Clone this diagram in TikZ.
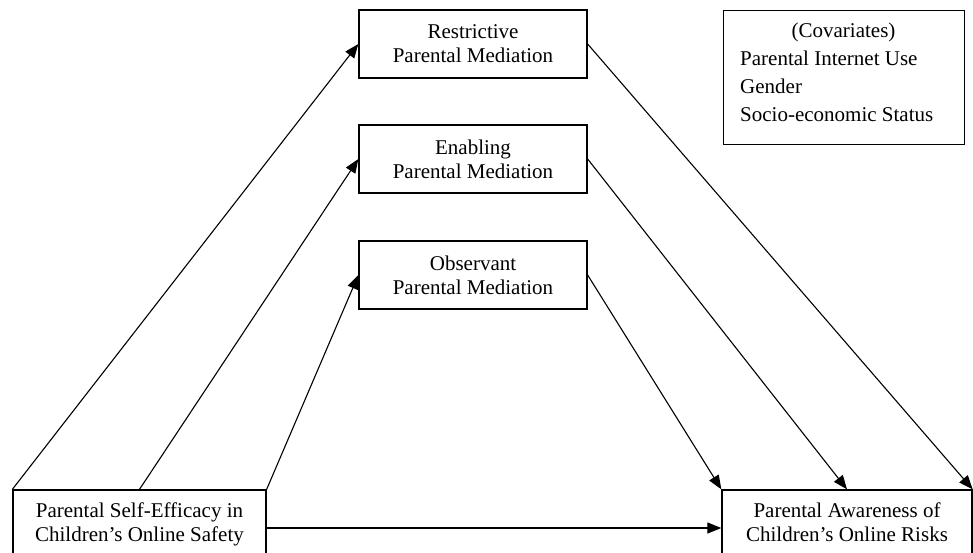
\documentclass[tikz,border=0pt]{standalone}
\usepackage{fontspec}
\setmainfont{Liberation Serif}
\usetikzlibrary{arrows.meta}
\begin{document}
\begin{tikzpicture}[x=1pt,y=-1pt,
  txt/.style={inner sep=0pt, font=\fontsize{21}{24}\selectfont},
  box/.style={txt, draw, line width=1.3pt, align=center},
  midbox/.style={box, minimum width=228pt, minimum height=68pt},
  endbox/.style={box, minimum height=76pt, text depth=11pt},
  arr/.style={line width=1.1pt, -{Triangle[length=14pt,width=11pt]}}]
\useasboundingbox (0,0) rectangle (973,552);
\clip (0,0) rectangle (973,552);
\node[midbox] (res) at (473,44) {Restrictive\\Parental Mediation};
\node[midbox] (en) at (473,159) {Enabling\\Parental Mediation};
\node[midbox] (ob) at (473,275) {Observant\\Parental Mediation};
\node[endbox, minimum width=253pt] (lb) at (139.5,528) {Parental Self-Efficacy in\\Children’s Online Safety};
\node[endbox, minimum width=250pt] (rb) at (847,528) {Parental Awareness of\\Children’s Online Risks};
\node[draw, line width=1.3pt, minimum width=241pt, minimum height=134pt, anchor=north west, inner sep=0pt] (cov) at (723,10) {};
\node[txt, anchor=base] (c0) at (843.5,37) {(Covariates)};
\node[txt, anchor=base west] (c1) at (740,65) {Parental Internet Use};
\node[txt, anchor=base west] (c2) at (740,93) {Gender};
\node[txt, anchor=base west] (c3) at (740,121) {Socio-economic Status};
\draw[arr] (lb.north west) -- (res.west);
\draw[arr] (lb.north) -- (en.west);
\draw[arr] (lb.north east) -- (ob.west);
\draw[arr] (lb.east) -- (rb.west);
\draw[arr] (res.east) -- (rb.north east);
\draw[arr] (en.east) -- (rb.north);
\draw[arr] (ob.east) -- (rb.north west);
\end{tikzpicture}
\end{document}
